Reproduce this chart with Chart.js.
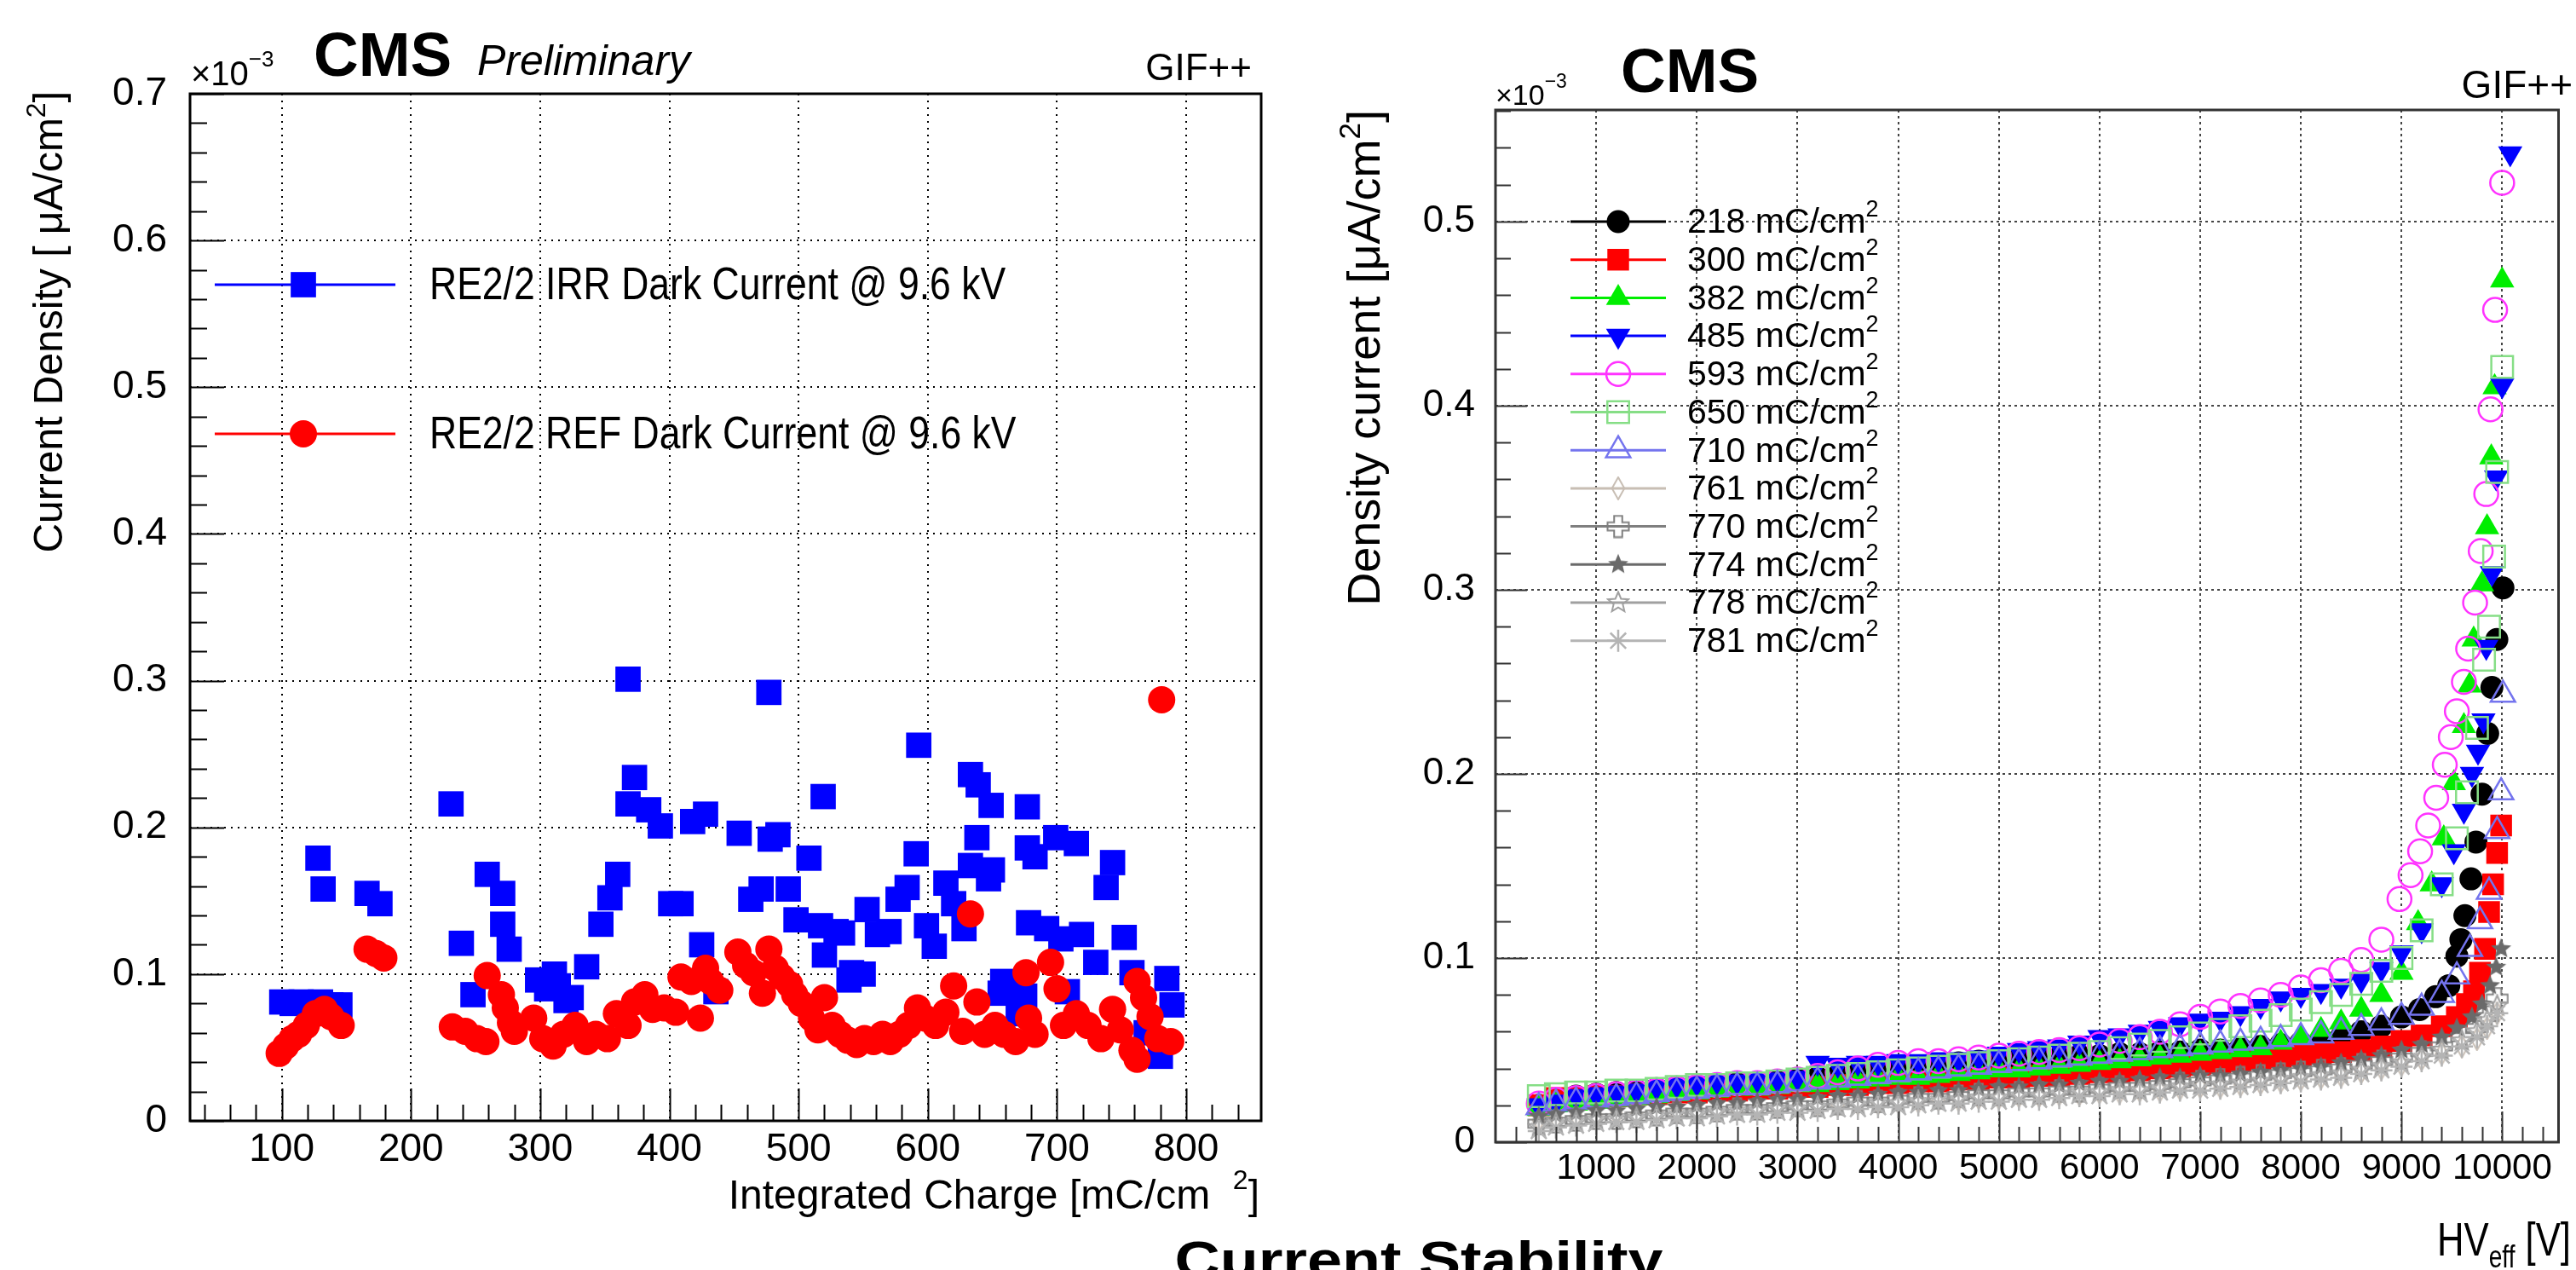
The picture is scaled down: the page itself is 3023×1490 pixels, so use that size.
<!DOCTYPE html>
<html>
<head>
<meta charset="utf-8">
<script src="https://cdn.jsdelivr.net/npm/chart.js@4.4.1/dist/chart.umd.min.js"></script>
<style>
  html, body { margin: 0; padding: 0; background: #fff; }
  #wrap { position: relative; width: 3023px; height: 1490px; overflow: hidden; }
  #wrap canvas { position: absolute; left: 0; top: 0; }
</style>
</head>
<body>
<div id="wrap">
  <canvas id="leftChart" width="3023" height="1490"></canvas>
  <canvas id="rightChart" width="3023" height="1490"></canvas>
</div>
<script>
// ---- left panel: dark current vs integrated charge ----
const leftXTicks = [100, 200, 300, 400, 500, 600, 700, 800];
const leftYTicks = [0, 0.1, 0.2, 0.3, 0.4, 0.5, 0.6, 0.7];

const irrX = [100, 108, 115, 123, 130, 138, 145, 128, 132, 166, 176,
  231, 239, 248, 259, 271, 271, 276, 298, 305, 311, 314, 320, 324, 336,
  347, 354, 360, 368, 373, 368, 384, 393, 401, 409, 418, 428, 425, 436,
  454, 463, 471, 477, 478, 484, 492, 498, 508, 517, 519, 520, 529, 534, 539, 541, 550, 553, 561, 570, 577, 584, 591, 593, 599, 605,
  614, 620, 628, 633, 639, 633, 638, 649, 647, 650, 656, 658, 665, 670, 675,
  677, 677, 678, 683, 692, 699, 703, 708, 715, 719, 730, 738, 743, 752, 758, 769, 780, 785, 789];
const irrY = [0.081, 0.080, 0.081, 0.080, 0.081, 0.079, 0.079, 0.179, 0.158, 0.155, 0.148,
  0.216, 0.121, 0.086, 0.168, 0.155, 0.134, 0.117, 0.096, 0.090, 0.100, 0.092, 0.082, 0.084, 0.105,
  0.134, 0.152, 0.168, 0.301, 0.234, 0.216, 0.212, 0.201, 0.148, 0.148, 0.204, 0.209, 0.120, 0.088,
  0.196, 0.151, 0.158, 0.292, 0.192, 0.195, 0.158, 0.137, 0.179, 0.133, 0.221, 0.113, 0.129, 0.128, 0.096, 0.101, 0.100, 0.144, 0.127, 0.129, 0.151, 0.159, 0.182, 0.256, 0.133, 0.119,
  0.162, 0.148, 0.131, 0.236, 0.229, 0.174, 0.193, 0.215, 0.165, 0.171, 0.087, 0.095, 0.091, 0.073, 0.085,
  0.214, 0.186, 0.135, 0.180, 0.131, 0.193, 0.124, 0.088, 0.189, 0.127, 0.108, 0.159, 0.176, 0.125, 0.101, 0.060, 0.044, 0.097, 0.079];

const refX = [98, 103, 108, 113, 119, 126, 133, 138, 146, 166, 173, 179,
  232, 242, 251, 258, 259, 270, 273, 277, 280,
  295, 302, 310, 318, 327, 336, 343, 352, 359, 368, 373, 381, 387, 396, 405,
  409, 417, 424, 428, 432, 439,
  453, 459, 465, 472, 477, 482, 487, 493, 497, 502,
  510, 515, 520, 526, 532, 538, 545, 551, 558, 565, 571, 578, 585, 592, 598, 606, 614,
  620, 627, 633, 638, 644, 652, 659, 668, 676, 678, 683,
  695, 700, 705, 715, 724, 734, 743, 749, 758, 762, 762, 767, 772, 778, 781, 788];
const refY = [0.046, 0.051, 0.056, 0.059, 0.065, 0.073, 0.076, 0.071, 0.065, 0.117, 0.114, 0.111,
  0.064, 0.061, 0.056, 0.054, 0.099, 0.086, 0.077, 0.067, 0.061,
  0.070, 0.056, 0.051, 0.059, 0.065, 0.054, 0.059, 0.056, 0.073, 0.065, 0.081, 0.086, 0.076, 0.077, 0.074,
  0.098, 0.095, 0.070, 0.104, 0.095, 0.089,
  0.115, 0.106, 0.101, 0.087, 0.117, 0.104, 0.098, 0.093, 0.086, 0.080,
  0.070, 0.062, 0.084, 0.065, 0.059, 0.055, 0.052, 0.056, 0.054, 0.059, 0.054, 0.059, 0.065, 0.077, 0.070, 0.065, 0.074,
  0.092, 0.061, 0.141, 0.081, 0.059, 0.065, 0.059, 0.054, 0.101, 0.070, 0.059,
  0.108, 0.090, 0.065, 0.073, 0.065, 0.056, 0.076, 0.062, 0.048, 0.042, 0.095, 0.084, 0.071, 0.056, 0.287, 0.054];

// ---- right panel: density current vs HV_eff ----
const rightXTicks = [1000, 2000, 3000, 4000, 5000, 6000, 7000, 8000, 9000, 10000];
const rightYTicks = [0, 0.1, 0.2, 0.3, 0.4, 0.5];
const seriesLabels = ['218', '300', '382', '485', '593', '650', '710', '761', '770', '774', '778', '781'];

const hvGrid = [430, 600, 800, 1000, 1200, 1400, 1600, 1800, 2000, 2200, 2400, 2600, 2800, 3000, 3200, 3400, 3600, 3800,
  4000, 4200, 4400, 4600, 4800, 5000, 5200, 5400, 5600, 5800, 6000, 6200, 6400, 6600, 6800, 7000, 7200, 7400, 7600, 7800,
  8000, 8200, 8400, 8600, 8800];

const low218 = [0.020, 0.023, 0.025, 0.026, 0.027, 0.028, 0.029, 0.030, 0.030, 0.031, 0.032, 0.032, 0.033, 0.034, 0.035, 0.036, 0.037, 0.038, 0.040, 0.041, 0.042, 0.043, 0.044, 0.045, 0.045, 0.046, 0.046, 0.047, 0.047, 0.048, 0.048, 0.049, 0.049, 0.050, 0.050, 0.051, 0.052, 0.053, 0.054, 0.055, 0.057, 0.060, 0.063];
const tailX218 = [9000, 9180, 9340, 9470, 9550, 9590, 9630, 9690, 9740, 9800, 9856, 9898, 9947, 10008];
const tailY218 = [0.068, 0.072, 0.079, 0.085, 0.101, 0.110, 0.123, 0.143, 0.163, 0.189, 0.222, 0.247, 0.273, 0.301];

const low300 = [0.020, 0.024, 0.024, 0.025, 0.025, 0.026, 0.026, 0.027, 0.027, 0.028, 0.028, 0.029, 0.029, 0.030, 0.030, 0.031, 0.031, 0.032, 0.032, 0.033, 0.033, 0.034, 0.034, 0.035, 0.035, 0.036, 0.036, 0.037, 0.038, 0.038, 0.039, 0.040, 0.041, 0.042, 0.043, 0.044, 0.045, 0.046, 0.047, 0.048, 0.049, 0.050, 0.052];
const tailX300 = [9000, 9200, 9400, 9550, 9650, 9720, 9780, 9830, 9870, 9910, 9950, 9990];
const tailY300 = [0.055, 0.058, 0.063, 0.068, 0.075, 0.082, 0.092, 0.105, 0.125, 0.140, 0.157, 0.172];

const low382 = [0.018, 0.020, 0.021, 0.022, 0.023, 0.024, 0.025, 0.026, 0.027, 0.028, 0.029, 0.029, 0.030, 0.031, 0.031, 0.032, 0.033, 0.034, 0.035, 0.035, 0.036, 0.037, 0.038, 0.039, 0.039, 0.040, 0.041, 0.042, 0.043, 0.044, 0.045, 0.046, 0.047, 0.048, 0.049, 0.050, 0.051, 0.054, 0.057, 0.061, 0.065, 0.072, 0.080];
const tailX382 = [9000, 9165, 9300, 9420, 9520, 9620, 9676, 9717, 9800, 9850, 9892, 9925, 10000];
const tailY382 = [0.092, 0.119, 0.140, 0.165, 0.195, 0.226, 0.248, 0.273, 0.303, 0.334, 0.372, 0.410, 0.468];

const low485 = [0.020, 0.022, 0.025, 0.026, 0.027, 0.028, 0.030, 0.031, 0.032, 0.033, 0.033, 0.034, 0.034, 0.035, 0.043, 0.042, 0.043, 0.043, 0.044, 0.044, 0.045, 0.045, 0.046, 0.048, 0.050, 0.051, 0.052, 0.054, 0.057, 0.058, 0.060, 0.062, 0.064, 0.066, 0.067, 0.070, 0.074, 0.078, 0.080, 0.082, 0.085, 0.088, 0.094];
const tailX485 = [9000, 9200, 9400, 9520, 9620, 9700, 9760, 9814, 9842, 9898, 9940, 10000, 10080];
const tailY485 = [0.103, 0.115, 0.140, 0.158, 0.180, 0.200, 0.212, 0.229, 0.269, 0.309, 0.361, 0.411, 0.537];

const low593 = [0.021, 0.023, 0.024, 0.025, 0.026, 0.027, 0.028, 0.029, 0.030, 0.031, 0.032, 0.032, 0.033, 0.034, 0.036, 0.038, 0.040, 0.042, 0.043, 0.044, 0.044, 0.045, 0.046, 0.047, 0.048, 0.049, 0.050, 0.051, 0.053, 0.055, 0.057, 0.060, 0.064, 0.068, 0.071, 0.074, 0.077, 0.080, 0.084, 0.088, 0.093, 0.099, 0.110];
const tailX593 = [8980, 9090, 9185, 9265, 9345, 9430, 9490, 9550, 9620, 9662, 9731, 9787, 9842, 9884, 9930, 10000];
const tailY593 = [0.132, 0.145, 0.158, 0.172, 0.187, 0.205, 0.220, 0.234, 0.250, 0.268, 0.293, 0.321, 0.352, 0.398, 0.452, 0.521];

const low650 = [0.025, 0.026, 0.027, 0.027, 0.028, 0.028, 0.029, 0.030, 0.031, 0.031, 0.032, 0.032, 0.033, 0.034, 0.035, 0.036, 0.037, 0.038, 0.039, 0.040, 0.041, 0.042, 0.043, 0.044, 0.045, 0.046, 0.047, 0.048, 0.049, 0.051, 0.053, 0.055, 0.057, 0.059, 0.061, 0.063, 0.066, 0.069, 0.072, 0.076, 0.080, 0.086, 0.093];
const tailX650 = [9000, 9200, 9400, 9550, 9650, 9750, 9820, 9870, 9920, 9950, 10000];
const tailY650 = [0.100, 0.115, 0.140, 0.165, 0.190, 0.225, 0.262, 0.280, 0.318, 0.364, 0.421];

const low710 = [0.019, 0.021, 0.022, 0.023, 0.024, 0.025, 0.026, 0.027, 0.028, 0.029, 0.030, 0.030, 0.031, 0.032, 0.033, 0.034, 0.035, 0.036, 0.037, 0.038, 0.039, 0.040, 0.041, 0.042, 0.043, 0.044, 0.045, 0.046, 0.047, 0.048, 0.049, 0.050, 0.051, 0.052, 0.053, 0.054, 0.055, 0.056, 0.057, 0.058, 0.060, 0.062, 0.065];
const tailX710 = [9000, 9200, 9400, 9550, 9680, 9780, 9870, 9950, 9990, 10008];
const tailY710 = [0.068, 0.073, 0.080, 0.090, 0.105, 0.120, 0.136, 0.169, 0.190, 0.243];

const low761 = [0.012, 0.013, 0.014, 0.014, 0.015, 0.015, 0.016, 0.016, 0.017, 0.017, 0.018, 0.018, 0.019, 0.019, 0.020, 0.020, 0.021, 0.021, 0.022, 0.022, 0.023, 0.023, 0.024, 0.024, 0.025, 0.025, 0.026, 0.026, 0.027, 0.027, 0.028, 0.028, 0.029, 0.030, 0.030, 0.031, 0.032, 0.033, 0.034, 0.035, 0.036, 0.038, 0.040];
const tailX761 = [9000, 9200, 9400, 9600, 9750, 9850, 9950];
const tailY761 = [0.042, 0.045, 0.048, 0.052, 0.056, 0.062, 0.070];

const low770 = [0.010, 0.011, 0.012, 0.013, 0.013, 0.014, 0.015, 0.016, 0.016, 0.017, 0.018, 0.018, 0.019, 0.020, 0.020, 0.021, 0.022, 0.022, 0.023, 0.024, 0.024, 0.025, 0.026, 0.026, 0.027, 0.027, 0.028, 0.028, 0.029, 0.030, 0.030, 0.031, 0.032, 0.033, 0.034, 0.035, 0.036, 0.037, 0.038, 0.039, 0.040, 0.042, 0.044];
const tailX770 = [9000, 9200, 9400, 9600, 9750, 9850, 9950];
const tailY770 = [0.046, 0.049, 0.052, 0.057, 0.062, 0.068, 0.078];

const low774 = [0.014, 0.015, 0.016, 0.017, 0.017, 0.018, 0.019, 0.019, 0.020, 0.021, 0.021, 0.022, 0.023, 0.023, 0.024, 0.025, 0.025, 0.026, 0.027, 0.027, 0.028, 0.028, 0.029, 0.030, 0.030, 0.031, 0.031, 0.032, 0.033, 0.033, 0.034, 0.035, 0.035, 0.036, 0.036, 0.037, 0.038, 0.039, 0.040, 0.041, 0.043, 0.045, 0.047];
const tailX774 = [9000, 9200, 9400, 9550, 9700, 9800, 9880, 9940, 9990];
const tailY774 = [0.050, 0.053, 0.057, 0.062, 0.068, 0.075, 0.085, 0.095, 0.105];

const low778 = [0.008, 0.010, 0.011, 0.012, 0.012, 0.013, 0.014, 0.014, 0.015, 0.016, 0.016, 0.017, 0.018, 0.018, 0.019, 0.019, 0.020, 0.021, 0.021, 0.022, 0.022, 0.023, 0.024, 0.024, 0.025, 0.025, 0.026, 0.027, 0.027, 0.028, 0.028, 0.029, 0.030, 0.031, 0.031, 0.032, 0.033, 0.034, 0.035, 0.036, 0.037, 0.039, 0.041];
const tailX778 = [9000, 9200, 9400, 9600, 9750, 9850, 9950];
const tailY778 = [0.043, 0.046, 0.050, 0.055, 0.060, 0.066, 0.074];

const low781 = [0.006, 0.008, 0.009, 0.010, 0.011, 0.011, 0.012, 0.013, 0.013, 0.014, 0.015, 0.015, 0.016, 0.016, 0.017, 0.018, 0.018, 0.019, 0.019, 0.020, 0.021, 0.021, 0.022, 0.022, 0.023, 0.023, 0.024, 0.025, 0.025, 0.026, 0.026, 0.027, 0.028, 0.028, 0.029, 0.030, 0.031, 0.032, 0.033, 0.034, 0.035, 0.037, 0.039];
const tailX781 = [9000, 9200, 9400, 9600, 9750, 9850, 9950];
const tailY781 = [0.041, 0.044, 0.047, 0.052, 0.057, 0.063, 0.070];

// ------------------------------------------------------------------
const FONT = "'Liberation Sans', Arial, sans-serif";
Chart.defaults.font.family = FONT;

function pts(xs, ys) {
    return xs.map((x, i) => ({ x: x, y: ys[i] }));
}

// text made of pieces: [text, font, dy]
function richText(ctx, parts, x, y, align) {
    let w = 0;
    parts.forEach(p => { ctx.font = p[1]; p.w = ctx.measureText(p[0]).width; w += p.w; });
    let cx = align === 'right' ? x - w : align === 'center' ? x - w / 2 : x;
    ctx.textAlign = 'left';
    parts.forEach(p => { ctx.font = p[1]; ctx.fillText(p[0], cx, y + (p[2] || 0)); cx += p.w; });
}

function makeMarker(kind, color, size) {
    const c = document.createElement('canvas');
    c.width = size; c.height = size;
    const g = c.getContext('2d');
    const m = size / 2;
    g.strokeStyle = color; g.fillStyle = color; g.lineWidth = 2;
    g.beginPath();
    if (kind === 'diamond') {
        g.moveTo(m, 1); g.lineTo(m + size * 0.26, m); g.lineTo(m, size - 1); g.lineTo(m - size * 0.26, m);
        g.closePath(); g.stroke();
    } else if (kind === 'opencross') {
        const a = size * 0.17, b = m - 1.5;
        g.moveTo(m - a, m - b); g.lineTo(m + a, m - b); g.lineTo(m + a, m - a); g.lineTo(m + b, m - a);
        g.lineTo(m + b, m + a); g.lineTo(m + a, m + a); g.lineTo(m + a, m + b); g.lineTo(m - a, m + b);
        g.lineTo(m - a, m + a); g.lineTo(m - b, m + a); g.lineTo(m - b, m - a); g.lineTo(m - a, m - a);
        g.closePath(); g.stroke();
    } else {
        for (let k = 0; k < 10; k++) {
            const r = k % 2 ? size * 0.2 : m - 1.5;
            const ang = -Math.PI / 2 + k * Math.PI / 5;
            g.lineTo(m + r * Math.cos(ang), m + r * Math.sin(ang));
        }
        g.closePath();
        if (kind === 'starFill') g.fill(); else g.stroke();
    }
    return c;
}

function isMajor(v, step) {
    return Math.abs(v / step - Math.round(v / step)) < 1e-6;
}

// ROOT style frame with inward ticks and all the free text
const rootFrame = {
    id: 'rootFrame',
    afterDraw(chart, args, o) {
        const ctx = chart.ctx, a = chart.chartArea;
        const xs = chart.scales.x, ys = chart.scales.y;
        ctx.save();
        ctx.strokeStyle = o.frameColor;
        ctx.lineWidth = 2;
        ctx.beginPath();
        for (let i = 0; ; i++) {
            const v = o.xMinorStart + i * o.xMinorStep;
            if (v > xs.max) break;
            const px = Math.round(xs.getPixelForValue(v)) + 0.5;
            const len = isMajor(v, o.xMajorStep) ? o.xMajorLen : o.xMinorLen;
            ctx.moveTo(px, a.bottom); ctx.lineTo(px, a.bottom - len);
        }
        for (let i = 0; ; i++) {
            const v = i * o.yMinorStep;
            if (v > ys.max + 1e-9) break;
            const py = Math.round(ys.getPixelForValue(v)) + 0.5;
            const len = isMajor(v, o.yMajorStep) ? o.yMajorLen : o.yMinorLen;
            ctx.moveTo(a.left, py); ctx.lineTo(a.left + len, py);
        }
        ctx.stroke();
        ctx.lineWidth = 3;
        ctx.strokeRect(a.left, a.top, a.right - a.left, a.bottom - a.top);
        ctx.fillStyle = '#000';
        ctx.textBaseline = 'alphabetic';
        o.draw(ctx, chart);
        ctx.restore();
    }
};

function legendMarker(ctx, ds, x, y) {
    ctx.fillStyle = ds.backgroundColor;
    ctx.strokeStyle = ds.borderColor;
    ctx.lineWidth = ds.borderWidth;
    if (Chart.helpers && Chart.helpers.drawPoint) {
        Chart.helpers.drawPoint(ctx, {
            pointStyle: ds.pointStyle, rotation: ds.pointRotation || 0,
            radius: ds.pointRadius, borderWidth: ds.borderWidth
        }, x, y);
    } else {
        ctx.beginPath(); ctx.arc(x, y, ds.pointRadius * 0.8, 0, Math.PI * 2); ctx.fill();
    }
}

// ------------------------- left chart -------------------------
const irrLabel = 'RE2/2 IRR Dark Current @ 9.6 kV';
const refLabel = 'RE2/2 REF Dark Current @ 9.6 kV';

new Chart(document.getElementById('leftChart'), {
    type: 'scatter',
    data: {
        datasets: [
            {
                label: irrLabel, data: pts(irrX, irrY),
                pointStyle: 'rect', pointRadius: 21, borderWidth: 0,
                backgroundColor: '#0000ff', borderColor: '#0000ff', order: 1
            },
            {
                label: refLabel, data: pts(refX, refY),
                pointStyle: 'circle', pointRadius: 16, borderWidth: 0,
                backgroundColor: '#ff0000', borderColor: '#ff0000', order: 0
            }
        ]
    },
    options: {
        responsive: false, animation: false, events: [],
        layout: { padding: { left: 0, right: 1543, top: 110, bottom: 0 } },
        plugins: {
            legend: { display: false },
            tooltip: { enabled: false },
            rootFrame: {
                frameColor: '#000',
                xMinorStart: 40, xMinorStep: 20, xMajorStep: 100, xMajorLen: 38, xMinorLen: 19,
                yMinorStep: 0.02, yMajorStep: 0.1, yMajorLen: 40, yMinorLen: 20,
                draw(ctx, chart) {
                    richText(ctx, [['\u00d710', '40px ' + FONT], ['\u22123', '26px ' + FONT, -22]], 224, 100, 'left');
                    richText(ctx, [['CMS', 'bold 73px ' + FONT]], 368, 89, 'left');
                    richText(ctx, [['Preliminary', 'italic 50px ' + FONT]], 560, 88, 'left');
                    richText(ctx, [['GIF++', '44px ' + FONT]], 1469, 94, 'right');
                    // axis titles
                    richText(ctx, [['Integrated Charge [mC/cm  ', '48px ' + FONT], ['2', '32px ' + FONT, -23], [']', '48px ' + FONT]], 1478, 1418, 'right');
                    ctx.save();
                    ctx.translate(60, 107);
                    ctx.rotate(-Math.PI / 2);
                    ctx.textBaseline = 'middle';
                    richText(ctx, [['Current Density [ \u03bcA/cm', '48px ' + FONT], ['2', '32px ' + FONT, -16], [']', '48px ' + FONT]], 0, 0, 'right');
                    ctx.restore();
                    // legend
                    const rows = [334, 509];
                    chart.data.datasets.forEach((ds, i) => {
                        const y = rows[i];
                        ctx.strokeStyle = ds.backgroundColor; ctx.lineWidth = 3;
                        ctx.beginPath(); ctx.moveTo(252, y); ctx.lineTo(464, y); ctx.stroke();
                        legendMarker(ctx, ds, 356, y);
                        ctx.save();
                        ctx.translate(504, y); ctx.scale(0.84, 1);
                        ctx.fillStyle = '#000'; ctx.textBaseline = 'middle';
                        richText(ctx, [[ds.label, '53px ' + FONT]], 0, 2, 'left');
                        ctx.restore();
                    });
                }
            }
        },
        scales: {
            x: {
                type: 'linear', min: 29, max: 858,
                afterFit: s => { s.height = 175; },
                afterBuildTicks: s => { s.ticks = leftXTicks.map(v => ({ value: v })); },
                grid: { color: '#000', lineWidth: 2, drawTicks: false },
                border: { display: false, dash: [2, 6] },
                ticks: { color: '#000', font: { size: 46 }, padding: 7, autoSkip: false, maxRotation: 0, callback: v => String(v) }
            },
            y: {
                type: 'linear', min: 0, max: 0.7,
                afterFit: s => { s.width = 223; },
                afterBuildTicks: s => { s.ticks = leftYTicks.map(v => ({ value: v })); },
                grid: { color: '#000', lineWidth: 2, drawTicks: false },
                border: { display: false, dash: [2, 6] },
                ticks: { color: '#000', font: { size: 46 }, padding: 27, callback: v => (v === 0 ? '0' : v.toFixed(1)) }
            }
        }
    },
    plugins: [rootFrame]
});

// ------------------------- right chart -------------------------
const seriesLow = [low218, low300, low382, low485, low593, low650, low710, low761, low770, low774, low778, low781];
const seriesTailX = [tailX218, tailX300, tailX382, tailX485, tailX593, tailX650, tailX710, tailX761, tailX770, tailX774, tailX778, tailX781];
const seriesTailY = [tailY218, tailY300, tailY382, tailY485, tailY593, tailY650, tailY710, tailY761, tailY770, tailY774, tailY778, tailY781];

const seriesStyle = [
    { color: '#000000', pointStyle: 'circle', radius: 13.5, fill: true },
    { color: '#ff0000', pointStyle: 'rect', radius: 18, fill: true },
    { color: '#00ee00', pointStyle: 'triangle', radius: 16.5, fill: true },
    { color: '#0000ff', pointStyle: 'triangle', radius: 16.5, fill: true, rotation: 180 },
    { color: '#ff33ff', pointStyle: 'circle', radius: 14, fill: false },
    { color: '#86de86', pointStyle: 'rect', radius: 18, fill: false },
    { color: '#7474ee', pointStyle: 'triangle', radius: 16.5, fill: false },
    { color: '#c8beb4', pointStyle: makeMarker('diamond', '#c8beb4', 28), radius: 14, fill: false },
    { color: '#7f7f7f', pointStyle: makeMarker('opencross', '#7f7f7f', 28), radius: 14, fill: false },
    { color: '#6a6a6a', pointStyle: makeMarker('starFill', '#6a6a6a', 28), radius: 14, fill: true },
    { color: '#a0a0a0', pointStyle: makeMarker('starOpen', '#a0a0a0', 28), radius: 14, fill: false },
    { color: '#b4b4b4', pointStyle: 'star', radius: 13, fill: false }
];

const rightDatasets = seriesLabels.map((lab, i) => {
    const st = seriesStyle[i];
    return {
        label: lab,
        data: pts(hvGrid.concat(seriesTailX[i]), seriesLow[i].concat(seriesTailY[i])),
        pointStyle: st.pointStyle,
        pointRadius: st.radius,
        pointRotation: st.rotation || 0,
        backgroundColor: st.fill ? st.color : 'rgba(0,0,0,0)',
        borderColor: st.color,
        borderWidth: st.fill ? 0 : 2.5,
        order: 12 - i
    };
});

new Chart(document.getElementById('rightChart'), {
    type: 'scatter',
    data: { datasets: rightDatasets },
    options: {
        responsive: false, animation: false, events: [],
        layout: { padding: { left: 1520, right: 6, top: 129, bottom: 0 } },
        plugins: {
            legend: { display: false },
            tooltip: { enabled: false },
            rootFrame: {
                frameColor: '#333',
                xMinorStart: 200, xMinorStep: 200, xMajorStep: 1000, xMajorLen: 36, xMinorLen: 18,
                yMinorStep: 0.02, yMajorStep: 0.1, yMajorLen: 37, yMinorLen: 18,
                draw(ctx, chart) {
                    richText(ctx, [['\u00d710', '34px ' + FONT], ['\u22123', '23px ' + FONT, -20]], 1755, 123, 'left');
                    richText(ctx, [['CMS', 'bold 73px ' + FONT]], 1902, 108, 'left');
                    richText(ctx, [['GIF++', '46px ' + FONT]], 3019, 115, 'right');
                    // x title
                    ctx.save();
                    ctx.translate(3017, 1473); ctx.scale(0.78, 1);
                    richText(ctx, [['HV', '56px ' + FONT], ['eff', '36px ' + FONT, 14], [' [V]', '56px ' + FONT]], 0, 0, 'right');
                    ctx.restore();
                    // y title
                    ctx.save();
                    ctx.translate(1604, 129);
                    ctx.rotate(-Math.PI / 2);
                    ctx.textBaseline = 'middle';
                    richText(ctx, [['Density current [\u03bcA/cm', '54px ' + FONT], ['2', '35px ' + FONT, -18], [']', '54px ' + FONT]], 0, 0, 'right');
                    ctx.restore();
                    // legend
                    chart.data.datasets.forEach((ds, i) => {
                        const y = 260 + i * 44.7;
                        ctx.strokeStyle = ds.borderColor; ctx.lineWidth = 3;
                        ctx.beginPath(); ctx.moveTo(1843, y); ctx.lineTo(1955, y); ctx.stroke();
                        legendMarker(ctx, ds, 1899, y);
                        ctx.fillStyle = '#000'; ctx.textBaseline = 'middle';
                        richText(ctx, [[ds.label + ' mC/cm', '41px ' + FONT], ['2', '27px ' + FONT, -15]], 1980, y + 2, 'left');
                    });
                    // slide title, cut at the bottom edge
                    ctx.save();
                    ctx.textBaseline = 'alphabetic';
                    ctx.font = 'bold 62px ' + FONT;
                    const w = ctx.measureText('Current Stability').width;
                    ctx.translate(1665, 1499); ctx.scale(573 / w, 1);
                    ctx.textAlign = 'center';
                    ctx.fillText('Current Stability', 0, 0);
                    ctx.restore();
                }
            }
        },
        scales: {
            x: {
                type: 'linear', min: 0, max: 10560,
                afterFit: s => { s.height = 150; },
                afterBuildTicks: s => { s.ticks = rightXTicks.map(v => ({ value: v })); },
                grid: { color: '#444', lineWidth: 2, drawTicks: false },
                border: { display: false, dash: [3, 4] },
                ticks: { color: '#000', font: { size: 42 }, padding: 6, autoSkip: false, maxRotation: 0, callback: v => String(v) }
            },
            y: {
                type: 'linear', min: 0, max: 0.5606,
                afterFit: s => { s.width = 235; },
                afterBuildTicks: s => { s.ticks = rightYTicks.map(v => ({ value: v })); },
                grid: { color: '#444', lineWidth: 2, drawTicks: false },
                border: { display: false, dash: [3, 4] },
                ticks: { color: '#000', font: { size: 44 }, padding: 24, callback: v => (v === 0 ? '0' : v.toFixed(1)) }
            }
        }
    },
    plugins: [rootFrame]
});
</script>
</body>
</html>
